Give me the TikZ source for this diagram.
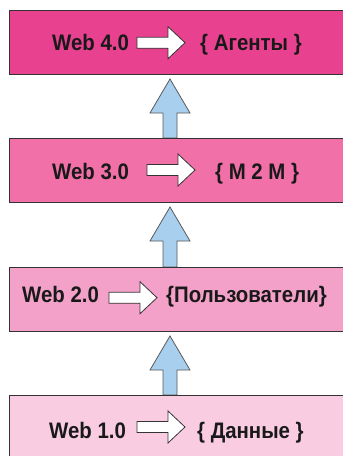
\documentclass[tikz,border=0pt]{standalone}
\usepackage{graphicx}
\usepackage{fontspec}
\setmainfont{Liberation Sans}
\usetikzlibrary{calc,backgrounds}

\definecolor{lvlfour}{HTML}{E8418F}
\definecolor{lvlthree}{HTML}{F170A8}
\definecolor{lvltwo}{HTML}{F3A1C9}
\definecolor{lvlone}{HTML}{F9CCE1}
\definecolor{liftblue}{HTML}{A8CFEE}

\newcommand\tall[1]{\scalebox{1}[1.1]{#1}}

\tikzset{
  levelbox/.style={draw=black!80, line width=1pt, minimum width=350pt,
    minimum height=64pt, anchor=north west, inner sep=0pt},
  lbl/.style={anchor=base west, inner sep=0pt,
    font=\bfseries\fontsize{20.4}{24}\selectfont, text=black!90},
  liftarrow/.style={draw=black!65, fill=liftblue, line width=0.8pt, line join=miter},
  pics/rarrow/.style={code={
    \draw[draw=black!80, fill=white, line width=0.8pt, line join=miter]
      (0,-5.5) -- (31,-5.5) -- (31,-16) -- (48,0) -- (31,16) -- (31,5.5)
      -- (0,5.5) -- cycle;}}
}

% block arrow rising from the lower box (#1) towards the upper box (#2)
\newcommand\lift[2]{%
  \draw[liftarrow]
    ($(#2.south -| ax)+(0,4)$) -- ($(#2.south -| ax)+(20,38)$)
    -- ($(#2.south -| ax)+(7,38)$) -- ($(#1.north -| ax)+(7,0)$)
    -- ($(#1.north -| ax)+(-7,0)$) -- ($(#2.south -| ax)+(-7,38)$)
    -- ($(#2.south -| ax)+(-20,38)$) -- cycle;}

\begin{document}
\begin{tikzpicture}[x=1pt, y=-1pt]
  \useasboundingbox (0,0) rectangle (343,456);
  \clip (0,0) rectangle (343,456);
  \coordinate (ax) at (170,0);

  % the four levels
  \node[levelbox, fill=lvlfour]  (b4) at (9,10)  {};
  \node[levelbox, fill=lvlthree] (b3) at (9,138) {};
  \node[levelbox, fill=lvltwo]   (b2) at (9,267) {};
  \node[levelbox, fill=lvlone]   (b1) at (9,395) {};

  % Web 4.0
  \node[lbl] (w4) at (52,50) {\tall{Web 4.0}};
  \pic (r4) at (137,42.7) {rarrow};
  \node[lbl] (t4) at (200,50) {\tall{\{ Агенты \}}};

  % Web 3.0
  \node[lbl] (w3) at (52,179) {\tall{Web 3.0}};
  \pic (r3) at (147,170) {rarrow};
  \node[lbl] (t3) at (215,179) {\tall{\{ M 2 M \}}};

  % Web 2.0
  \node[lbl] (w2) at (22,302.5) {\tall{Web 2.0}};
  \pic (r2) at (109,297.7) {rarrow};
  \node[lbl] (t2) at (166,302.5) {\tall{\{Пользователи\}}};

  % Web 1.0
  \node[lbl] (w1) at (49,438) {\tall{Web 1.0}};
  \pic (r1) at (137,427) {rarrow};
  \node[lbl] (t1) at (197,438) {\tall{\{ Данные \}}};

  % rising arrows between the levels
  \begin{scope}[on background layer]
    \lift{b3}{b4}
    \lift{b2}{b3}
    \lift{b1}{b2}
  \end{scope}
\end{tikzpicture}
\end{document}
